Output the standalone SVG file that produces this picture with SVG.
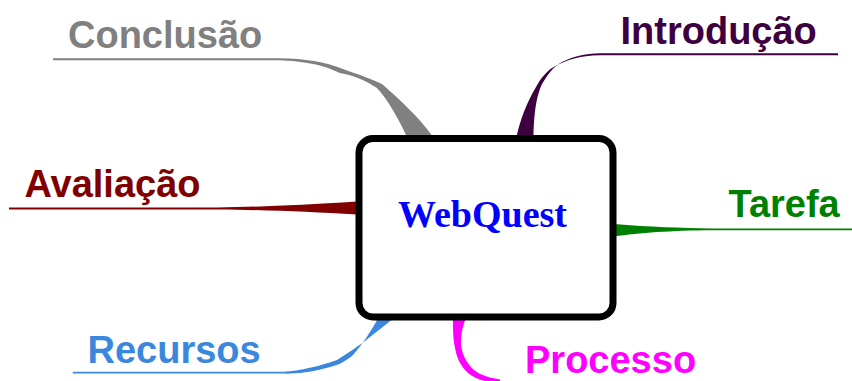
<svg xmlns="http://www.w3.org/2000/svg" width="852" height="381" viewBox="0 0 852 381">
<style>
.lbl{font-family:"Liberation Sans",Arial,sans-serif;font-weight:bold;font-size:38px}
.center{font-family:"Liberation Serif","Times New Roman",serif;font-weight:bold;font-size:38px;fill:#0000ff}
</style>
<rect width="852" height="381" fill="#ffffff"/>
<g id="connectors">
<path fill="#808080" d="M53,58.3 H280 C305,58.5 325,62 343,69 C360,75 372,79 382,84 C400,100 420,118 433,137 H407 C398,118 388,100 377,88 C365,80 352,75 340,73 C330,69 318,62 280,60.3 H53 Z"/>
<path fill="#3f003f" d="M838,53.2 H600 C585,53.4 572,57 562,62 C553,67 548,74 542,84 C537,95 534,110 533.5,137 H516.5 C520,120 527,102 536,87 C541,78 546,72 552,68 C565,60 580,55.4 600,55.2 H838 Z"/>
<path fill="#800000" d="M9,207.4 H217 C260,207 300,205 357,201.5 V214.5 C310,212 270,210 217,209.4 H9 Z"/>
<path fill="#008000" d="M852,228.4 H713 C680,228 650,227 614,224 V236.5 C640,233 670,230.5 713,230.3 H852 Z"/>
<path fill="#3a87dd" d="M72.7,371.8 H283 C300,371 320,366 337,360 C350,352 358,346 365,341 C375,333 385,325 394,318 H378 C372,330 362,345 353,355 C345,362 338,365 330,367 C310,373 295,373.8 283,373.6 H72.7 Z"/>
<path fill="#ff00ff" d="M453,318 C452.5,335 454,350 459,361 C464,371 472,378 485,381 L500,382 L500,379.5 C490,378 480,375 474,370 C466,363 461,352 461,343 C461,333 463,325 466,318 Z"/>
</g>
<g id="webquest">
<rect x="359" y="138.5" width="254" height="178.5" rx="14" ry="14" fill="#ffffff" stroke="#000000" stroke-width="7"/>
<text class="center" x="482.5" y="227" text-anchor="middle">WebQuest</text>
</g>
<g id="conclusao"><text class="lbl" x="68" y="48" fill="#808080">Conclusão</text></g>
<g id="introducao"><text class="lbl" x="620.5" y="43.5" fill="#3f003f">Introdução</text></g>
<g id="avaliacao"><text class="lbl" x="24.5" y="197" fill="#800000">Avaliação</text></g>
<g id="tarefa"><text class="lbl" x="728.5" y="217.3" fill="#008000">Tarefa</text></g>
<g id="recursos"><text class="lbl" x="87.5" y="363.3" fill="#3a87dd">Recursos</text></g>
<g id="processo"><text class="lbl" x="525" y="372.5" fill="#ff00ff">Processo</text></g>
</svg>
